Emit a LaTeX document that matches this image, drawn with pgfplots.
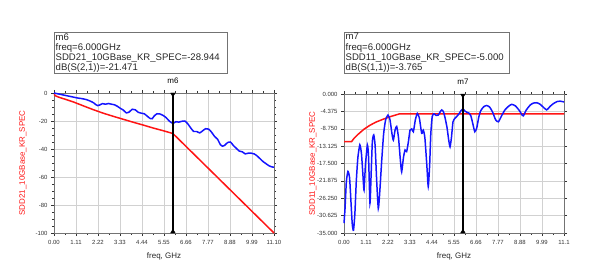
\documentclass[border=0pt]{standalone}
\usepackage{fontspec}
\setmainfont{Liberation Sans}
\usepackage{pgfplots}
\pgfplotsset{compat=1.18}
\definecolor{adsred}{RGB}{255,20,20}
\definecolor{adsblue}{RGB}{20,20,255}
\pgfplotsset{
  adsaxis/.style={
    scale only axis, anchor=south west, width=220bp,
    xmin=0, xmax=11.1,
    xtick={0,1.11,2.22,3.33,4.44,5.55,6.66,7.77,8.88,9.99,11.1},
    minor x tick num=1,
    grid=major, major grid style={black!18, line width=0.5pt},
    tick align=outside, major tick length=3bp, minor tick length=2bp,
    tick style={black!80, line width=0.4pt},
    axis line style={black!55, line width=0.8pt},
    tick label style={font=\fontsize{6}{7}\selectfont, text=black!80},
    xticklabel style={yshift=-0.8bp},
    xlabel={freq, GHz},
    xlabel style={at={(axis description cs:0.5,-0.17)}, anchor=center, font=\fontsize{8}{9}\selectfont, text=black!85},
    ylabel style={at={(axis description cs:-0.141,0.5)}, anchor=center, font=\fontsize{8}{9}\selectfont, text=adsred},
    clip=false,
  }
}
\begin{document}
\begin{tikzpicture}
\useasboundingbox (0,0) rectangle (590bp,269bp);
% ---------------- left axis ----------------
\begin{axis}[adsaxis, at={(54bp,36bp)}, height=140bp,
  ymin=-100, ymax=0, ytick={-100,-80,-60,-40,-20,0},
  yticklabels={-100,-80,-60,-40,-20,0},
  xticklabels={0.00,1.11,2.22,3.33,4.44,5.55,6.66,7.77,8.88,9.99,11.10},
  minor y tick num=3,
  ylabel={SDD21\_10GBase\_KR\_SPEC}]
\addplot[adsred, line width=1.5pt] coordinates {
(0,-1.0) (0.1,-2.2) (0.3,-3.3) (0.6,-4.6) (1.0,-6.5) (1.5,-9.3) (2.0,-12.0)
(2.5,-14.5) (3.0,-16.7) (3.5,-18.8) (4.0,-20.9) (4.5,-22.9) (5.0,-25.0)
(5.5,-26.9) (6.0,-28.944) (11.1,-100)};
\addplot[adsblue, line width=1.5pt, smooth, tension=0.4] coordinates {
(0,0) (0.2,-0.6) (0.4,-1.2) (0.6,-1.8) (0.8,-2.4) (1.0,-3.0) (1.2,-3.6) (1.4,-4.0)
(1.6,-4.6) (1.8,-5.6) (2.0,-7.0) (2.1,-8.2) (2.2,-9.0) (2.3,-8.6) (2.45,-7.6)
(2.6,-8.0) (2.75,-7.5) (2.9,-8.0) (3.05,-8.4) (3.2,-9.5) (3.35,-11.0) (3.5,-12.2)
(3.65,-14.2) (3.8,-13.5) (3.95,-11.6) (4.1,-12.0) (4.25,-13.8) (4.4,-14.4)
(4.55,-14.8) (4.7,-16.5) (4.85,-18.2) (4.95,-18.4) (5.05,-16.5) (5.2,-14.8)
(5.35,-15.0) (5.5,-16.0) (5.65,-17.5) (5.8,-19.8) (5.95,-21.4) (6.05,-21.4)
(6.15,-20.5) (6.3,-20.8) (6.45,-20.2) (6.6,-20.0) (6.75,-22.0) (6.9,-25.0)
(7.05,-27.5) (7.2,-27.5) (7.35,-28.5) (7.5,-27.0) (7.65,-25.5) (7.8,-25.8)
(7.95,-28.0) (8.1,-31.0) (8.25,-33.0) (8.4,-37.0) (8.5,-38.0) (8.6,-37.5)
(8.75,-35.5) (8.9,-35.0) (9.05,-37.5) (9.2,-39.5) (9.35,-41.5) (9.5,-42.0)
(9.65,-43.5) (9.8,-43.0) (9.95,-43.0) (10.1,-43.5) (10.25,-45.0) (10.4,-47.0)
(10.55,-49.0) (10.7,-50.5) (10.85,-52.0) (11.0,-52.8) (11.1,-53.0)};
% marker m6
\addplot[black, line width=1.4pt] coordinates {(6,0) (6,-100)};
\addplot[only marks, mark=triangle*, mark size=2.6pt, black,
  mark options={rotate=180, yshift=1.3pt}] coordinates {(6,0)};
\addplot[only marks, mark=triangle*, mark size=2.6pt, black,
  mark options={yshift=1.3pt}] coordinates {(6,-100)};
\node[anchor=south, font=\fontsize{8}{9}\selectfont, yshift=5.5bp] at (axis cs:6,0) {m6};
\end{axis}
% ---------------- right axis ----------------
\begin{axis}[adsaxis, at={(344bp,36bp)}, height=139bp,
  ymin=-35, ymax=0,
  ytick={-35,-30.625,-26.25,-21.875,-17.5,-13.125,-8.75,-4.375,0},
  yticklabels={-35.000,-30.625,-26.250,-21.875,-17.500,-13.125,-8.750,-4.375,0.000},
  xticklabels={0.00,1.11,2.22,3.33,4.44,5.55,6.66,7.77,8.88,9.99,11.1},
  minor y tick num=0,
  ylabel={SDD11\_10GBase\_KR\_SPEC}]
\addplot[adsred, line width=1.5pt] coordinates {
(0,-12.0) (0.38,-12.0) (0.5,-11.2) (0.7,-10.2) (1.0,-8.9) (1.3,-7.9) (1.6,-7.1)
(2.0,-6.3) (2.4,-5.6) (2.8,-5.0) (11.1,-5.0)};
\addplot[adsblue, line width=1.5pt, smooth, tension=0.35] coordinates {
(0.0,-32.5) (0.05,-29) (0.12,-22) (0.2,-19.5) (0.28,-21) (0.35,-27) (0.42,-33)
(0.48,-34.3) (0.55,-30) (0.62,-22) (0.7,-16) (0.8,-12.8) (0.88,-15) (0.95,-20)
(1.01,-24.2) (1.08,-18) (1.18,-12.8) (1.24,-16) (1.31,-27.5) (1.37,-20) (1.43,-12)
(1.5,-10.3) (1.57,-13) (1.65,-22) (1.73,-28.8) (1.8,-25) (1.9,-17) (2.0,-10)
(2.1,-6.5) (2.22,-5.3) (2.32,-6.5) (2.42,-10) (2.49,-11.6) (2.58,-9) (2.66,-8.2)
(2.75,-11) (2.85,-17) (2.91,-19.6) (3.0,-16) (3.08,-14.1) (3.16,-14.5) (3.25,-12)
(3.33,-9.1) (3.42,-8.8) (3.5,-9.5) (3.6,-6.5) (3.7,-4.9) (3.8,-6.0) (3.92,-9.9)
(4.0,-9.1) (4.08,-11) (4.18,-18) (4.25,-23.3) (4.32,-18) (4.38,-10) (4.45,-5.7)
(4.54,-5.0) (4.65,-5.4) (4.76,-5.3) (4.85,-4.5) (4.93,-4.0) (5.02,-4.5) (5.1,-6.0)
(5.2,-8.5) (5.28,-11.5) (5.35,-13.3) (5.42,-11) (5.5,-7) (5.6,-6.1) (5.7,-5.6)
(5.8,-5.0) (5.9,-4.2) (6.0,-3.765) (6.1,-4.3) (6.2,-4.6) (6.3,-4.8) (6.4,-5.5)
(6.5,-7.5) (6.6,-9.5) (6.7,-8.5) (6.8,-5.8) (6.9,-4.2) (7.05,-3.2) (7.2,-2.9)
(7.35,-3.3) (7.5,-4.6) (7.65,-6.5) (7.79,-7.0) (7.95,-5.5) (8.12,-4.0) (8.3,-3.1)
(8.46,-2.6) (8.65,-3.0) (8.85,-4.2) (9.0,-5.4) (9.05,-5.5) (9.2,-4.0) (9.39,-2.8)
(9.55,-2.3) (9.73,-2.2) (9.9,-2.6) (10.05,-3.3) (10.23,-4.0) (10.4,-3.1)
(10.57,-2.4) (10.75,-1.9) (10.9,-1.8) (11.1,-2.0)};
% marker m7
\addplot[black, line width=1.4pt] coordinates {(6,0) (6,-35)};
\addplot[only marks, mark=triangle*, mark size=2.6pt, black,
  mark options={rotate=180, yshift=1.3pt}] coordinates {(6,0)};
\addplot[only marks, mark=triangle*, mark size=2.6pt, black,
  mark options={yshift=1.3pt}] coordinates {(6,-35)};
\node[anchor=south, font=\fontsize{8}{9}\selectfont, yshift=5.5bp] at (axis cs:6,0) {m7};
\end{axis}
% ---------------- marker readout boxes ----------------
\draw[black!55, line width=0.7pt] (54bp,196bp) rectangle (227bp,237bp);
\node[anchor=north west, inner sep=0pt, align=left, font=\fontsize{9.6}{10.2}\selectfont, text=black!85]
  at (55.5bp,235.8bp) {m6\\freq=6.000GHz\\SDD21\_10GBase\_KR\_SPEC=-28.944\\dB(S(2,1))=-21.471};
\draw[black!55, line width=0.7pt] (344bp,196bp) rectangle (509bp,237bp);
\node[anchor=north west, inner sep=0pt, align=left, font=\fontsize{9.6}{10.2}\selectfont, text=black!85]
  at (345.5bp,235.8bp) {m7\\freq=6.000GHz\\SDD11\_10GBase\_KR\_SPEC=-5.000\\dB(S(1,1))=-3.765};
\end{tikzpicture}
\end{document}
